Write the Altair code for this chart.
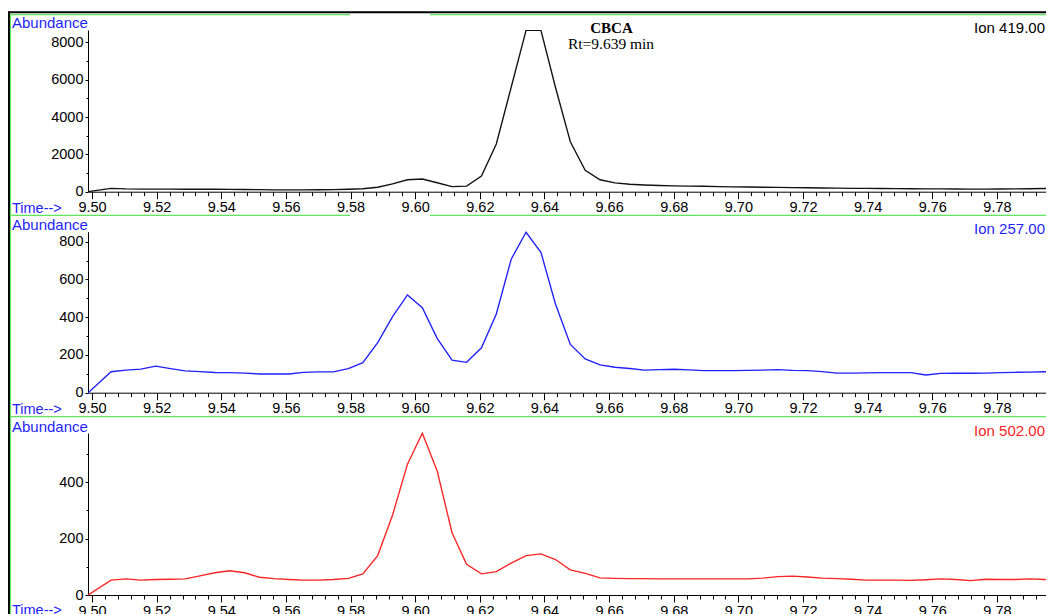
import altair as alt
import pandas as pd

# ---------------- data ----------------
times = [9.4988, 9.5059, 9.5105, 9.5151, 9.5197, 9.5243, 9.5288, 9.5334, 9.5380, 9.5426,
         9.5472, 9.5518, 9.5563, 9.5609, 9.5655, 9.5701, 9.5747, 9.5793, 9.5838, 9.5884,
         9.5930, 9.5976, 9.6022, 9.6068, 9.6114, 9.6159, 9.6205, 9.6251, 9.6297, 9.6343,
         9.6389, 9.6434, 9.6480, 9.6526, 9.6572, 9.6618, 9.6664, 9.6709, 9.6755, 9.6801,
         9.6847, 9.6893, 9.6939, 9.6984, 9.7030, 9.7076, 9.7122, 9.7168, 9.7214, 9.7259,
         9.7305, 9.7351, 9.7397, 9.7443, 9.7489, 9.7534, 9.7580, 9.7626, 9.7672, 9.7718,
         9.7764, 9.7809, 9.7855, 9.7901, 9.7947, 9.7993]

ion419 = [0, 180, 150, 140, 140, 135, 130, 130, 130, 125,
          120, 110, 100, 100, 100, 105, 110, 130, 160, 240,
          420, 640, 680, 480, 270, 300, 840, 2560, 5600, 8650,
          8650, 5600, 2680, 1150, 640, 470, 400, 360, 330, 310,
          300, 290, 275, 260, 250, 240, 230, 220, 210, 200,
          190, 180, 175, 170, 165, 160, 155, 150, 145, 140,
          140, 145, 150, 160, 170, 180]

ion257 = [0, 111, 120, 125, 141, 128, 116, 112, 107, 106,
          104, 99, 99, 99, 108, 110, 110, 128, 159, 265,
          403, 518, 450, 288, 173, 161, 238, 417, 707, 850,
          744, 470, 256, 179, 147, 135, 128, 120, 122, 124,
          121, 117, 117, 117, 118, 120, 122, 118, 117, 112,
          104, 104, 105, 106, 106, 106, 94, 102, 103, 103,
          104, 106, 108, 109, 111, 112]

ion502 = [0, 53, 57, 53, 55, 56, 57, 68, 79, 86,
          79, 63, 58, 55, 53, 53, 55, 59, 75, 140,
          284, 464, 574, 440, 221, 109, 75, 83, 113, 140,
          146, 126, 89, 77, 61, 59, 58, 58, 57, 57,
          57, 57, 57, 57, 57, 60, 65, 67, 64, 60,
          58, 56, 53, 53, 53, 52, 54, 57, 55, 51,
          56, 55, 55, 57, 55, 53]

ion_labels = ["Ion 419.00", "Ion 257.00", "Ion 502.00"]
annotation = ["CBCA", "Rt=9.639 min"]
y_title = "Abundance"
x_title = "Time-->"

x_major_ticks = [9.50, 9.52, 9.54, 9.56, 9.58, 9.60, 9.62, 9.64, 9.66, 9.68, 9.70,
                 9.72, 9.74, 9.76, 9.78]
x_domain = [9.49876, 9.79518]

y419_major = [0, 2000, 4000, 6000, 8000]
y257_major = [0, 200, 400, 600, 800]
y502_major = [0, 200, 400]

# minor ticks (5 per major interval on x, halves on y)
x_all_ticks = [round(9.50 + 0.004 * i, 3) for i in range(74)]
y419_all = [1000 * i for i in range(9)]
y257_all = [100 * i for i in range(9)]
y502_all = [100 * i for i in range(6)]

FONT = "Liberation Sans"
SERIF = "Liberation Serif"
BLUE = "#1f1fff"
RED = "#ff2424"
BLACK = "#111111"
GREEN = "#5ee65e"

W, H = 958, 565


def x_axis(offset):
    return alt.Axis(
        orient="bottom", offset=offset, values=x_all_ticks,
        labelExpr="round(datum.value*1000) % 20 === 0 ? format(datum.value, '.2f') : ''",
        tickSize={"condition": {"test": "round(datum.value*1000) % 20 === 0", "value": 7}, "value": 4},
        labelPadding=2, labelFont=FONT, labelFontSize=14.5, labelColor="black",
        labelOverlap=False, labelFlush=False, grid=False, title=None,
        domainColor="black", domainWidth=1, tickColor="black", tickWidth=1,
    )


def y_axis(all_vals, major):
    maj = "[" + ",".join(str(v) for v in major) + "]"
    return alt.Axis(
        orient="left", values=all_vals,
        labelExpr=f"indexof({maj}, datum.value) >= 0 ? format(datum.value, 'd') : ''",
        tickSize={"condition": {"test": f"indexof({maj}, datum.value) >= 0", "value": 3}, "value": 2},
        labelPadding=2, labelFont=FONT, labelFontSize=14.5, labelColor="black",
        labelOverlap=False, grid=False, title=None,
        domainColor="black", domainWidth=1, tickColor="black", tickWidth=1,
    )


def trace(values, color, ydom, yrange, xoff, yall, ymaj):
    df = pd.DataFrame({"time": times, "abundance": values})
    return alt.Chart(df).mark_line(color=color, strokeWidth=1.35, clip=True).encode(
        x=alt.X("time:Q", scale=alt.Scale(domain=x_domain, nice=False, zero=False), axis=x_axis(xoff)),
        y=alt.Y("abundance:Q", scale=alt.Scale(domain=ydom, range=yrange, nice=False, zero=False),
                axis=y_axis(yall, ymaj)),
    )


def text(t, x, y, color, size=15, font=FONT, align="left", weight="normal"):
    return alt.Chart(pd.DataFrame({"t": [t]})).mark_text(
        align=align, baseline="middle", font=font, fontSize=size, color=color, fontWeight=weight
    ).encode(x=alt.value(x), y=alt.value(y), text="t:N")


one = pd.DataFrame({"a": [0]})


def rule(x1, x2, y1, y2, color, width):
    return alt.Chart(one).mark_rule(color=color, strokeWidth=width).encode(
        x=alt.value(x1), x2=alt.value(x2), y=alt.value(y1), y2=alt.value(y2)
    )


layers = [
    trace(ion419, BLACK, [0, 8670], [161.7, 0], 161.7 - H, y419_all, y419_major),
    trace(ion257, BLUE, [0, 853], [362.7, 201.7], 362.7 - H, y257_all, y257_major),
    trace(ion502, RED, [0, 575], [565, 403], 0, y502_all, y502_major),
    # frame lines
    rule(-79, -79, -18.5, 590, "black", 2),
    rule(-80, W, -17.7, -17.7, "black", 2),
    rule(-77.5, -77.5, -16, 590, GREEN, 1.2),
    rule(-78, 262, -15.3, -15.3, GREEN, 1.2),
    rule(342, W, -15.3, -15.3, GREEN, 1.2),
    rule(-78, 262, 185.3, 185.3, GREEN, 1.2),
    rule(342, W, 185.3, 185.3, GREEN, 1.2),
    rule(-78, W, 386.7, 386.7, GREEN, 1.2),
    # labels
    text(y_title, -76, -7, BLUE),
    text(y_title, -76, 195, BLUE),
    text(y_title, -76, 396.5, BLUE),
    text(x_title, -76, 178.5, BLUE, size=14.5),
    text(x_title, -76, 380, BLUE, size=14.5),
    text(x_title, -76, 580.5, BLUE, size=14.5),
    text(ion_labels[0], 957, -2, "black", align="right"),
    text(ion_labels[1], 957, 199, BLUE, align="right"),
    text(ion_labels[2], 957, 400.5, RED, align="right"),
    text(annotation[0], 523.5, -2.5, "black", size=15, font=SERIF, align="center", weight="bold"),
    text(annotation[1], 523, 14, "black", size=15.5, font=SERIF, align="center"),
]

chart = (
    alt.layer(*layers)
    .resolve_scale(y="independent")
    .resolve_axis(x="independent", y="independent")
    .properties(
        width=W, height=H,
        padding={"left": 80, "top": 22, "right": 0, "bottom": 19},
        autosize=alt.AutoSizeParams(type="none"),
        background="white",
    )
    .configure_view(stroke=None)
)

chart.save("out.html", embed_options={"renderer": "svg", "actions": False})
